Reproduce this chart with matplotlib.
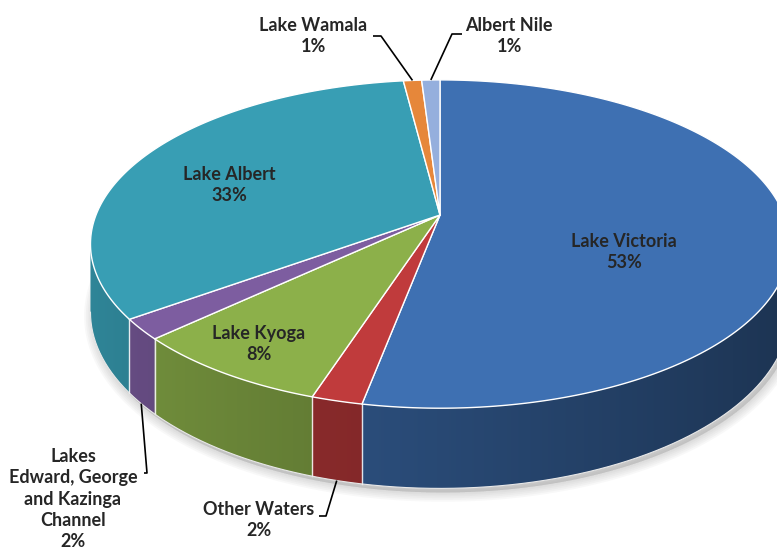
import numpy as np
import matplotlib.pyplot as plt
from matplotlib.patches import Polygon
from matplotlib import colors as mcolors

plt.rcParams['font.family'] = ['Lato', 'DejaVu Sans']

# slices, clockwise from 12 o'clock
labels = ['Lake Victoria', 'Other Waters', 'Lake Kyoga',
          'Lakes\nEdward, George\nand Kazinga\nChannel', 'Lake Albert',
          'Lake Wamala', 'Albert Nile']
shares = [53, 2, 8, 2, 33, 1, 1]
face_colors = ['#3E70B2', '#C03B3C', '#8CB04A', '#7D5DA0', '#389EB4',
               '#E6873A', '#95AFDD']

# label layout in pixel coordinates; leader = elbow points of the callout line
label_xy = [(624, 252), (259, 520), (259, 344), (73, 499), (229, 185),
            (313, 36), (509, 36)]
leaders = [None, [(319, 516), (326, 516)], None, [(144, 473), (147, 473)],
           None, [(373, 36), (381, 36)], [(462, 34), (452, 34)]]
leader_on_base = [False, True, False, True, False, False, False]

# perspective disc: centre, horizontal/vertical scale, foreshortening, thickness
CX, CY = 440, 215
F, G, K = 344, 159, 0.177
H = 66


def project(theta, drop=0.0):
    u, v = np.sin(theta), np.cos(theta)
    w = 1 + K * v
    return CX + F * u / w, CY - G * v / w + drop / w


def shade(color, theta):
    k = 0.65 - 0.2 * np.sin(theta)
    r, g, b = mcolors.to_rgb(color)
    return np.column_stack([r * k, g * k, b * k])


fig = plt.figure(figsize=(7.77, 5.55), dpi=100)
ax = fig.add_axes([0, 0, 1, 1])
ax.set_xlim(0, 777)
ax.set_ylim(555, 0)
ax.axis('off')

bounds = 2 * np.pi * np.cumsum([0] + shares) / sum(shares)

# soft shadow under the base
ring = np.linspace(0, 2 * np.pi, 400)
bx, by = project(ring, H)
for i in range(6):
    ax.add_patch(Polygon(np.column_stack([bx + 3, by + 4]), closed=True,
                         fc='#808080', ec='#808080', lw=1 + 2.5 * i,
                         alpha=0.05, zorder=1))

# outer wall, only the part facing the viewer, shaded left to right
vis_lo, vis_hi = np.arccos(-K), 2 * np.pi - np.arccos(-K)
for t0, t1, col in zip(bounds[:-1], bounds[1:], face_colors):
    a, b = max(t0, vis_lo), min(t1, vis_hi)
    if a >= b:
        continue
    ts = np.linspace(a, b, 200)
    xt, yt = project(ts)
    xb, yb = project(ts, H)
    wall = Polygon(np.vstack([np.column_stack([xt, yt]),
                              np.column_stack([xb, yb])[::-1]]),
                   closed=True, fc='none', ec='none')
    ax.add_patch(wall)
    x_lo, x_hi = xt.min() - 1, xt.max() + 1
    gx = np.linspace(x_lo, x_hi, 300)
    gtheta = np.interp(gx, xt[::-1], ts[::-1])
    grad = shade(col, gtheta)[np.newaxis, :, :]
    im = ax.imshow(grad, extent=[x_lo, x_hi, yb.max() + 2, yt.min() - 2],
                   aspect='auto', interpolation='bilinear', zorder=2)
    im.set_clip_path(wall)

# slice seams on the wall and the lower rim
for t in bounds[:-1]:
    if vis_lo < t < vis_hi:
        xt, yt = project(t)
        xb, yb = project(t, H)
        ax.plot([xt, xb], [yt, yb], color='white', lw=1.0, alpha=0.85, zorder=3)
rim = np.linspace(vis_lo, vis_hi, 300)
rx, ry = project(rim, H)
ax.plot(rx, ry, color='#e8e8e8', lw=0.8, zorder=3)

# top faces
for t0, t1, col in zip(bounds[:-1], bounds[1:], face_colors):
    ts = np.linspace(t0, t1, max(3, int(np.degrees(t1 - t0) * 2)))
    xs, ys = project(ts)
    pts = [(CX, CY)] + list(zip(xs, ys))
    ax.add_patch(Polygon(pts, closed=True, fc=col, ec='white', lw=1.0,
                         joinstyle='round', zorder=4))

# labels and callout lines
for i, (name, val) in enumerate(zip(labels, shares)):
    tx, ty = label_xy[i]
    ax.text(tx, ty, f'{name}\n{val}%', ha='center', va='center',
            fontsize=13, fontweight='bold', color='#262626',
            linespacing=1.3, zorder=6)
    if leaders[i] is not None:
        mid = (bounds[i] + bounds[i + 1]) / 2
        px, py = project(mid, H if leader_on_base[i] else 0)
        pts = leaders[i] + [(px, py)]
        ax.plot([p[0] for p in pts], [p[1] for p in pts], color='black',
                lw=1.2, zorder=6, solid_capstyle='butt')

ax.set_xlim(0, 777)
ax.set_ylim(555, 0)
fig.savefig('out.png', dpi=100)
